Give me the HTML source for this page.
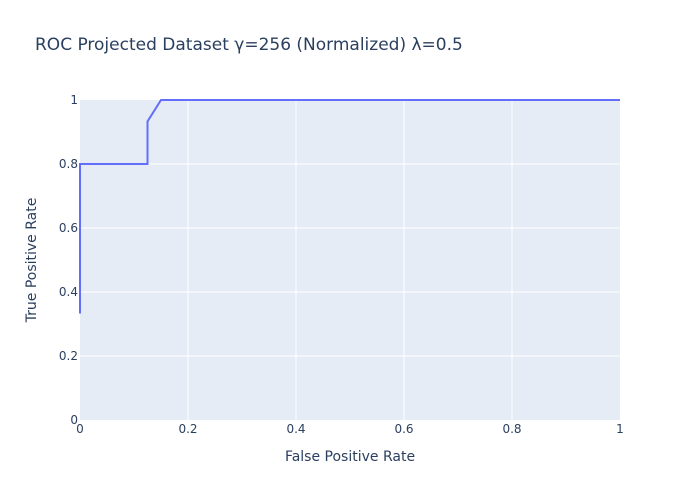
<!DOCTYPE html>
<html><head><meta charset="utf-8"><style>
body{margin:0;background:#fff;font-family:"DejaVu Sans",sans-serif}
svg text{font-family:"DejaVu Sans",sans-serif}
</style></head><body>
<svg id="c" width="700" height="500">
<rect width="700" height="500" fill="#fff"/>
<rect x="80" y="100" width="540" height="320" fill="#e5ecf6"/>
<g id="grid"></g><g id="ticks"></g>
<path id="line" fill="none" stroke="#636efa" stroke-width="2"/>
<text x="35" y="50" font-size="17" fill="#2a3f5f">ROC Projected Dataset γ=256 (Normalized) λ=0.5</text>
<text x="350" y="461" font-size="14" fill="#2a3f5f" text-anchor="middle">False Positive Rate</text>
<text transform="translate(36,260) rotate(-90)" font-size="14" fill="#2a3f5f" text-anchor="middle">True Positive Rate</text>
</svg>
<script>
const fpr=[0,0,0.125,0.125,0.15,1];
const tpr=[0.333,0.8,0.8,0.933,1,1];
const xTicks=[0,0.2,0.4,0.6,0.8,1];
const yTicks=[0,0.2,0.4,0.6,0.8,1];
const X=v=>80+v*540, Y=v=>420-v*320;
const ns="http://www.w3.org/2000/svg";
const g=document.getElementById('grid'), t=document.getElementById('ticks');
function mk(tag,a,p){const e=document.createElementNS(ns,tag);for(const k in a)e.setAttribute(k,a[k]);p.appendChild(e);return e;}
xTicks.forEach(v=>{
 if(v>0&&v<1){const l=mk('line',{x1:X(v),x2:X(v),y1:100,y2:420,stroke:'#fff','stroke-width':1},g);
 
 }
 const e=mk('text',{x:X(v),y:433,'font-size':12,fill:'#2a3f5f','text-anchor':'middle'},t);e.textContent=v;
 
 
});
yTicks.forEach(v=>{
 if(v>0&&v<1){const l=mk('line',{x1:80,x2:620,y1:Y(v),y2:Y(v),stroke:'#fff','stroke-width':1},g);
 
 }
 const e=mk('text',{x:78,y:Y(v)+4,'font-size':12,fill:'#2a3f5f','text-anchor':'end'},t);e.textContent=v;
 
 
});
document.getElementById('line').setAttribute('d',fpr.map((v,i)=>(i?'L':'M')+X(v)+','+Y(tpr[i])).join(''));
</script>
</body></html>
